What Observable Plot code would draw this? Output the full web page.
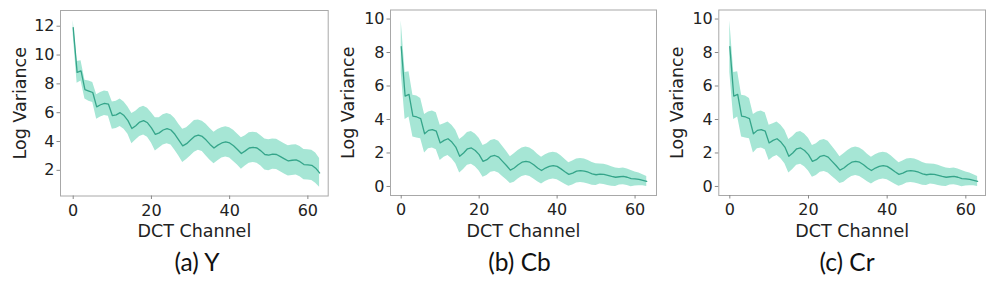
<!DOCTYPE html>
<html>
<head>
<meta charset="utf-8">
<script src="https://cdn.jsdelivr.net/npm/d3@7"></script>
<script src="https://cdn.jsdelivr.net/npm/@observablehq/plot@0.6"></script>
<style>
  html, body { margin: 0; padding: 0; background: #fff; }
  #wrap { position: relative; width: 996px; height: 286px; background: #fff; overflow: hidden; }
  .panel { position: absolute; top: 0; }
  .cap { position: absolute; font-family: Lato, "Open Sans", sans-serif; font-size: 24.5px; line-height: 24px; color: #111; text-align: center; white-space: nowrap; }
</style>
</head>
<body>
<div id="wrap"></div>
<script>
// ---- data ----
const channels = d3.range(64);
const xTicks = [0, 20, 40, 60];
const yTicksY = [2, 4, 6, 8, 10, 12];
const yTicksC = [0, 2, 4, 6, 8, 10];
const captions = ["(a) Y", "(b) Cb", "(c) Cr"];

const meanY = [11.9, 8.8, 8.9, 7.6, 7.5, 7.4, 6.4, 6.55, 6.65, 6.6,
  5.8, 5.85, 6.0, 5.8, 5.45, 4.9, 5.1, 5.35, 5.45, 5.3,
  4.95, 4.5, 4.6, 4.8, 4.9, 4.8, 4.5, 4.1, 3.7, 3.85,
  4.1, 4.35, 4.45, 4.35, 4.1, 3.8, 3.55, 3.75, 3.9, 3.97,
  3.9, 3.7, 3.45, 3.17, 3.35, 3.55, 3.6, 3.55, 3.35, 3.1,
  3.05, 3.12, 3.1, 2.95, 2.8, 2.65, 2.7, 2.72, 2.6, 2.4,
  2.38, 2.35, 2.15, 1.82];
const stdY = [0.5, 0.75, 0.7, 0.65, 0.7, 0.7, 0.85, 0.85, 0.85, 0.85,
  0.95, 0.95, 0.95, 0.95, 0.95, 1.05, 1.0, 1.0, 1.0, 1.0,
  1.05, 1.15, 1.05, 1.05, 1.05, 1.05, 1.1, 1.1, 1.15, 1.1,
  1.1, 1.1, 1.05, 1.05, 1.1, 1.1, 1.1, 1.08, 1.05, 1.05,
  1.05, 1.08, 1.08, 1.1, 1.05, 1.05, 1.05, 1.05, 1.05, 1.08,
  1.08, 1.05, 1.05, 1.05, 1.05, 1.05, 1.05, 1.05, 1.05, 1.05,
  1.05, 1.05, 1.05, 1.0];

const meanCb = [8.35, 5.4, 5.5, 4.2, 4.15, 4.05, 3.15, 3.35, 3.4, 3.3,
  2.6, 2.75, 2.85, 2.65, 2.35, 1.8, 2.0, 2.25, 2.3, 2.15,
  1.9, 1.5, 1.6, 1.8, 1.85, 1.75, 1.5, 1.25, 0.98, 1.1,
  1.3, 1.45, 1.5, 1.45, 1.3, 1.1, 0.95, 1.1, 1.2, 1.25,
  1.2, 1.05, 0.88, 0.72, 0.8, 0.92, 0.95, 0.92, 0.85, 0.75,
  0.7, 0.74, 0.72, 0.66, 0.6, 0.55, 0.58, 0.6, 0.55, 0.47,
  0.45, 0.42, 0.37, 0.3];
const stdCb = [1.55, 1.4, 1.35, 1.25, 1.25, 1.2, 1.15, 1.1, 1.1, 1.1,
  1.05, 1.0, 1.0, 1.0, 1.0, 1.0, 0.98, 0.98, 0.98, 0.98,
  0.98, 0.95, 0.95, 0.95, 0.95, 0.95, 0.9, 0.85, 0.8, 0.85,
  0.85, 0.85, 0.85, 0.85, 0.85, 0.82, 0.8, 0.8, 0.8, 0.8,
  0.8, 0.78, 0.75, 0.7, 0.72, 0.72, 0.72, 0.72, 0.7, 0.68,
  0.65, 0.6, 0.6, 0.6, 0.58, 0.55, 0.5, 0.5, 0.5, 0.48,
  0.42, 0.38, 0.33, 0.3];

const meanCr = [8.35, 5.4, 5.5, 4.2, 4.15, 4.05, 3.15, 3.35, 3.4, 3.3,
  2.6, 2.75, 2.85, 2.65, 2.35, 1.8, 2.0, 2.25, 2.3, 2.15,
  1.9, 1.5, 1.6, 1.8, 1.85, 1.75, 1.5, 1.25, 0.98, 1.1,
  1.3, 1.45, 1.5, 1.45, 1.3, 1.1, 0.95, 1.1, 1.2, 1.25,
  1.2, 1.05, 0.88, 0.72, 0.8, 0.92, 0.95, 0.92, 0.85, 0.75,
  0.7, 0.74, 0.72, 0.66, 0.6, 0.55, 0.58, 0.6, 0.55, 0.47,
  0.45, 0.42, 0.37, 0.3];
const stdCr = [1.55, 1.4, 1.35, 1.25, 1.25, 1.2, 1.15, 1.1, 1.1, 1.1,
  1.05, 1.0, 1.0, 1.0, 1.0, 1.0, 0.98, 0.98, 0.98, 0.98,
  0.98, 0.95, 0.95, 0.95, 0.95, 0.95, 0.9, 0.85, 0.8, 0.85,
  0.85, 0.85, 0.85, 0.85, 0.85, 0.82, 0.8, 0.8, 0.8, 0.8,
  0.8, 0.78, 0.75, 0.7, 0.72, 0.72, 0.72, 0.72, 0.7, 0.68,
  0.65, 0.6, 0.6, 0.6, 0.58, 0.55, 0.5, 0.5, 0.5, 0.48,
  0.42, 0.38, 0.33, 0.3];

// ---- styling ----
const bandColor = "#a6e6d5";
const lineColor = "#35a58a";
const frameColor = "#a8a8a8";
const tickColor = "#888";
const textColor = "#222";

function panel(mean, std, cfg) {
  const data = channels.map((c, i) => ({c, m: mean[i], lo: mean[i] - std[i], hi: mean[i] + std[i]}));
  return Plot.plot({
    width: cfg.width, height: 240,
    marginLeft: cfg.ml, marginRight: cfg.mr, marginTop: cfg.mt, marginBottom: 240 - cfg.fb,
    style: {fontFamily: "DejaVu Sans", fontSize: "16px", color: textColor, background: "white", overflow: "visible"},
    x: {domain: cfg.xd},
    y: {domain: cfg.yd},
    marks: [
      Plot.areaY(data, {x: "c", y1: "lo", y2: "hi", fill: bandColor}),
      Plot.lineY(data, {x: "c", y: "m", stroke: lineColor, strokeWidth: 1.3}),
      Plot.frame({stroke: frameColor}),
      Plot.axisX({ticks: xTicks, tickSize: 3.5, tickPadding: 5, stroke: tickColor, fill: textColor, label: null, fontSize: 16}),
      Plot.axisY({ticks: cfg.yt, tickSize: 3.5, tickPadding: 2.5, stroke: tickColor, fill: textColor, label: null, fontSize: 16}),
      Plot.text(["Log Variance"], {frameAnchor: "left", rotate: -90, dx: cfg.ldx, textAnchor: "middle", lineAnchor: "middle", fontSize: 17.5, fill: textColor}),
      Plot.text(["DCT Channel"], {frameAnchor: "bottom", dy: 35.5, textAnchor: "middle", lineAnchor: "middle", fontSize: 17.5, fill: textColor})
    ]
  });
}

const cfgs = [
  {left: 0, width: 330, ml: 60, mr: 2.3, mt: 10, fb: 195.5, xd: [-3.25, 65.2], yd: [0.22, 13.09], yt: yTicksY, ldx: -40, capX: 197},
  {left: 330, width: 330, ml: 60, mr: 4, mt: 9.5, fb: 195, xd: [-2.75, 65.5], yd: [-0.54, 10.54], yt: yTicksC, ldx: -41.7, capX: 519.5},
  {left: 660, width: 336, ml: 58.3, mr: 11, mt: 9.5, fb: 195, xd: [-2.8, 65.0], yd: [-0.54, 10.54], yt: yTicksC, ldx: -41.6, capX: 847}
];
const series = [[meanY, stdY], [meanCb, stdCb], [meanCr, stdCr]];

const wrap = document.getElementById("wrap");
cfgs.forEach((cfg, k) => {
  const div = document.createElement("div");
  div.className = "panel";
  div.style.left = cfg.left + "px";
  div.appendChild(panel(series[k][0], series[k][1], cfg));
  wrap.appendChild(div);
  const cap = document.createElement("div");
  cap.className = "cap";
  cap.style.left = (cfg.capX - 100) + "px";
  cap.style.width = "200px";
  cap.style.top = "250px";
  cap.textContent = captions[k];
  wrap.appendChild(cap);
});
</script>
</body>
</html>
